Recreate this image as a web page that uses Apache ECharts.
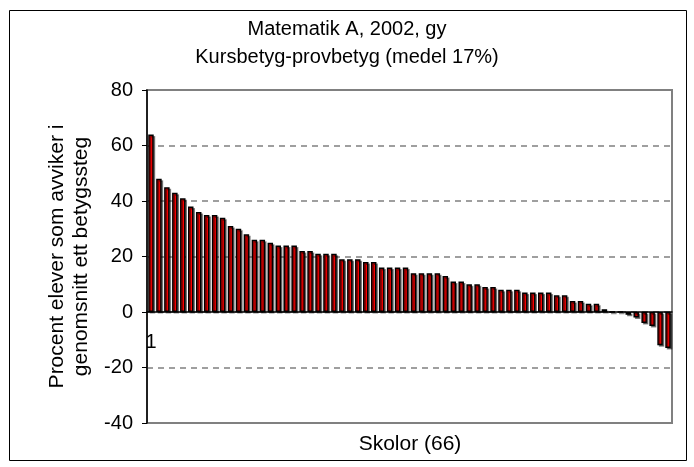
<!DOCTYPE html>
<html>
<head>
<meta charset="utf-8">
<script src="https://cdn.jsdelivr.net/npm/echarts@6/dist/echarts.min.js"></script>
<style>
  html, body { margin: 0; padding: 0; background: #fff; }
  #chart { width: 694px; height: 467px; }
</style>
</head>
<body>
<div id="chart"></div>
<script>
// Schools numbered 1..66, sorted by share of students whose course grade differs from the test grade
const schools = Array.from({ length: 66 }, (_, i) => String(i + 1));
const deviation = [
  64, 48, 45, 43, 41, 38, 36, 35, 35, 34,
  31, 30, 28, 26, 26, 25, 24, 24, 24, 22,
  22, 21, 21, 21, 19, 19, 19, 18, 18, 16,
  16, 16, 16, 14, 14, 14, 14, 13, 11, 11,
  10, 10, 9, 9, 8, 8, 8, 7, 7, 7,
  7, 6, 6, 4, 4, 3, 3, 1, 0, 0,
  -1, -2, -4, -5, -12, -13
];
const yTicks = { min: -40, max: 80, step: 20 };

const FONT = 'Liberation Sans, Arial, sans-serif';
const chart = echarts.init(document.getElementById('chart'), null, { renderer: 'canvas' });

chart.setOption({
  animation: false,
  backgroundColor: '#ffffff',
  title: {
    text: 'Matematik A, 2002, gy\nKursbetyg-provbetyg (medel 17%)',
    left: 'center',
    top: 10,
    textStyle: { fontFamily: FONT, fontSize: 20, fontWeight: 'normal', color: '#000', lineHeight: 28 }
  },
  grid: {
    left: 147, right: 22, top: 90, bottom: 44,
    show: true, borderColor: '#808080', borderWidth: 2, backgroundColor: '#fff'
  },
  xAxis: {
    type: 'category',
    data: schools,
    axisLine: { onZero: true, lineStyle: { color: '#000', width: 1.5 } },
    axisTick: { show: false },
    axisLabel: {
      // only the first school number is printed, just under the zero line
      interval: (idx) => idx === 0,
      margin: -91,
      fontFamily: FONT, fontSize: 20, color: '#000'
    },
    splitLine: { show: false }
  },
  yAxis: {
    type: 'value',
    min: yTicks.min, max: yTicks.max, interval: yTicks.step,
    name: 'Procent elever som avviker i\ngenomsnitt ett betygssteg',
    nameLocation: 'middle',
    nameGap: 49,
    nameTextStyle: { fontFamily: FONT, fontSize: 21, color: '#000', lineHeight: 24 },
    axisLine: { show: true, lineStyle: { color: '#000', width: 1.5 } },
    axisTick: { show: true, inside: false, length: 5, lineStyle: { color: '#000' } },
    axisLabel: { margin: 14, fontFamily: FONT, fontSize: 20, color: '#000' },
    splitLine: { show: true, lineStyle: { color: '#808080', type: [6, 5], width: 1.5 } }
  },
  graphic: [
    {
      type: 'rect', silent: true, z: -10,
      shape: { x: 9.5, y: 10.5, width: 677, height: 450 },
      style: { fill: 'none', stroke: '#000', lineWidth: 1 }
    },
    {
      type: 'text', silent: true,
      style: {
        x: 410, y: 444, text: 'Skolor (66)', textAlign: 'center', textVerticalAlign: 'middle',
        fontFamily: FONT, fontSize: 21, fill: '#000'
      }
    }
  ],
  series: [{
    type: 'bar',
    data: deviation,
    barWidth: 5.5,
    itemStyle: {
      color: '#ff0000',
      borderColor: '#000',
      borderWidth: 1.5,
      shadowColor: 'rgba(0,0,0,0.45)',
      shadowOffsetX: 1.5,
      shadowOffsetY: 1.5,
      shadowBlur: 0
    }
  }]
});
</script>
</body>
</html>
